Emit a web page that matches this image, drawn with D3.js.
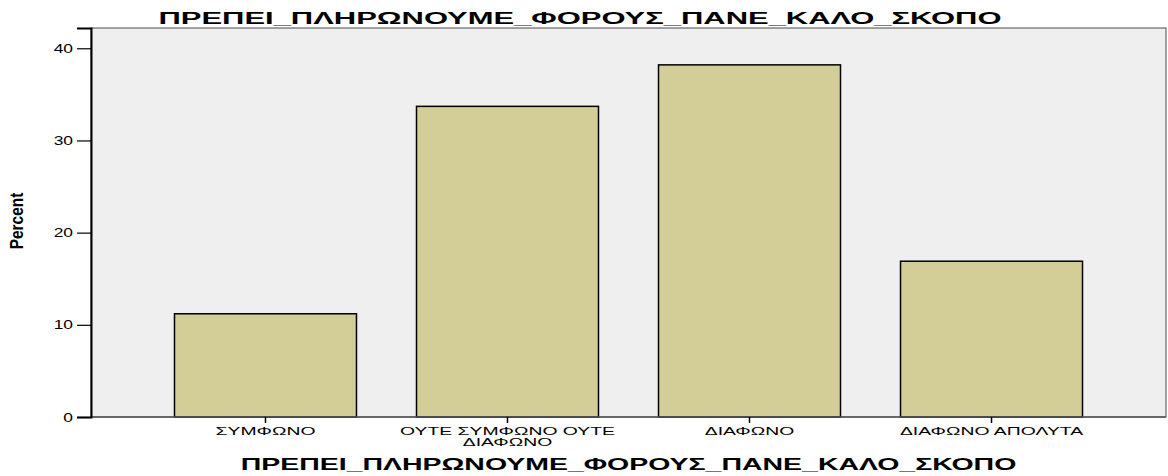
<!DOCTYPE html>
<html>
<head>
<meta charset="utf-8">
<script src="https://cdn.jsdelivr.net/npm/d3@7"></script>
<style>
  html, body { margin: 0; padding: 0; background: #ffffff; }
  svg { display: block; }
  text { font-family: "Liberation Sans", Arial, sans-serif; fill: #000; }
</style>
</head>
<body>
<svg id="chart" width="1168" height="476"></svg>
<script>
const title = "ΠΡΕΠΕΙ_ΠΛΗΡΩΝΟΥΜΕ_ΦΟΡΟΥΣ_ΠΑΝΕ_ΚΑΛΟ_ΣΚΟΠΟ";
const xTitle = "ΠΡΕΠΕΙ_ΠΛΗΡΩΝΟΥΜΕ_ΦΟΡΟΥΣ_ΠΑΝΕ_ΚΑΛΟ_ΣΚΟΠΟ";
const yTitle = "Percent";
const categories = ["ΣΥΜΦΩΝΟ", "ΟΥΤΕ ΣΥΜΦΩΝΟ ΟΥΤΕ ΔΙΑΦΩΝΟ", "ΔΙΑΦΩΝΟ", "ΔΙΑΦΩΝΟ ΑΠΟΛΥΤΑ"];
const categoryLines = [["ΣΥΜΦΩΝΟ"], ["ΟΥΤΕ ΣΥΜΦΩΝΟ ΟΥΤΕ", "ΔΙΑΦΩΝΟ"], ["ΔΙΑΦΩΝΟ"], ["ΔΙΑΦΩΝΟ ΑΠΟΛΥΤΑ"]];
const percents = [11.2, 33.7, 38.2, 16.9];
const yTicks = [0, 10, 20, 30, 40];
const yMax = 42.2;

const svg = d3.select("#chart");
const plot = { left: 91, right: 1166, top: 28, bottom: 417 };

const x = d3.scaleBand()
  .domain(categories)
  .range([plot.left, plot.right])
  .paddingInner(0.248)
  .paddingOuter(0.345);

const y = d3.scaleLinear()
  .domain([0, yMax])
  .range([plot.bottom, plot.top]);

// stretched text helper
function sText(g, tx, ty, str, opts) {
  return g.append("text")
    .attr("transform", `translate(${tx},${ty})` + (opts.rotate ? ` rotate(${opts.rotate})` : "") + ` scale(${opts.sx},1)`)
    .attr("text-anchor", opts.anchor || "middle")
    .attr("font-size", opts.size)
    .attr("font-weight", opts.weight || "normal")
    .text(str);
}

// plot background
svg.append("rect")
  .attr("x", plot.left).attr("y", plot.top)
  .attr("width", plot.right - plot.left).attr("height", plot.bottom - plot.top)
  .attr("fill", "#efefef")
  .attr("stroke", "#4a4a4a").attr("stroke-width", 1);

// bars
svg.append("g").selectAll("rect")
  .data(categories)
  .join("rect")
  .attr("x", d => x(d))
  .attr("y", (d, i) => y(percents[i]))
  .attr("width", x.bandwidth())
  .attr("height", (d, i) => y(0) - y(percents[i]))
  .attr("fill", "#d3ce97")
  .attr("stroke", "#000")
  .attr("stroke-width", 1.5);

// bottom axis line
svg.append("line")
  .attr("x1", plot.left).attr("x2", plot.right)
  .attr("y1", plot.bottom).attr("y2", plot.bottom)
  .attr("stroke", "#555").attr("stroke-width", 1.5);

// y axis
const yAxis = d3.axisLeft(y).tickValues(yTicks).tickSize(14).tickFormat("");
const yg = svg.append("g").attr("transform", `translate(${plot.left},0)`).call(yAxis);
yg.select(".domain").attr("stroke", "#000").attr("stroke-width", 2);
yg.selectAll(".tick line").attr("stroke", "#000").attr("stroke-width", 1.2);
yTicks.forEach(v => {
  sText(svg, 73, y(v) + 4.5, String(v), { sx: 1.45, size: 12, anchor: "end" });
});

// x axis ticks
const xAxis = d3.axisBottom(x).tickSize(6).tickFormat("");
const xg = svg.append("g").attr("transform", `translate(0,${plot.bottom})`).call(xAxis);
xg.select(".domain").remove();
xg.selectAll(".tick line").attr("stroke", "#000").attr("stroke-width", 1.5);

categories.forEach((c, i) => {
  const cx = x(c) + x.bandwidth() / 2;
  categoryLines[i].forEach((line, j) => {
    sText(svg, cx, 435 + j * 10.5, line, { sx: 1.76, size: 11 });
  });
});

// titles
sText(svg, 580, 24, title, { sx: 1.82, size: 17, weight: "bold" });
sText(svg, (plot.left + plot.right) / 2, 470, xTitle, { sx: 1.78, size: 16, weight: "bold" });
sText(svg, 23, 221, yTitle, { sx: 0.86, size: 18, weight: "bold", rotate: -90 });
</script>
</body>
</html>
